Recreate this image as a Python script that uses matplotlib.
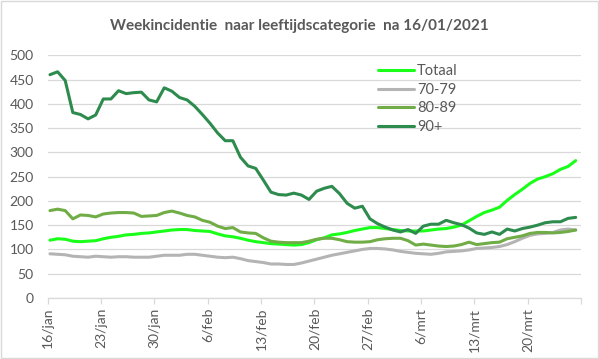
import matplotlib.pyplot as plt
import numpy as np
from matplotlib.patches import Rectangle

# daily values, 16/jan .. 26/mrt
totaal = [119, 122, 121, 117, 116, 117, 118, 122, 125, 127,
          130, 131, 133, 134, 136, 138, 140, 141, 141, 139,
          138, 137, 132, 128, 126, 123, 119, 116, 114, 112,
          111, 110, 109, 110, 114, 120, 124, 130, 132, 135,
          139, 142, 145, 145, 143, 141, 139, 138, 138, 138,
          140, 142, 143, 146, 150, 159, 168, 176, 181, 187,
          201, 213, 224, 236, 245, 250, 256, 265, 271, 283]
leeftijd_70_79 = [91, 90, 89, 86, 85, 84, 86, 85, 84, 85,
                  85, 84, 84, 84, 86, 88, 88, 88, 90, 90,
                  88, 86, 84, 83, 84, 81, 77, 75, 73, 70,
                  70, 69, 69, 72, 76, 80, 84, 88, 91, 94,
                  97, 100, 102, 102, 101, 99, 96, 94, 92, 91,
                  90, 92, 95, 96, 97, 99, 102, 103, 104, 106,
                  110, 116, 123, 129, 132, 133, 135, 140, 142, 140]
leeftijd_80_89 = [180, 183, 180, 163, 171, 170, 167, 173, 175, 176,
                  176, 175, 168, 169, 170, 176, 179, 175, 170, 167,
                  160, 156, 148, 143, 145, 136, 134, 133, 124, 117,
                  115, 114, 114, 114, 117, 121, 123, 123, 120, 116,
                  115, 115, 116, 120, 122, 123, 123, 118, 109, 111,
                  109, 107, 106, 107, 110, 115, 110, 112, 114, 115,
                  122, 125, 128, 133, 135, 135, 134, 135, 137, 140]
leeftijd_90 = [460, 466, 448, 382, 378, 369, 377, 410, 410, 427,
               421, 423, 424, 408, 404, 433, 426, 413, 408, 395,
               378, 360, 340, 324, 324, 290, 272, 267, 243, 218,
               213, 212, 216, 212, 203, 220, 226, 230, 215, 195,
               185, 189, 163, 153, 146, 140, 136, 141, 133, 148,
               152, 152, 160, 155, 151, 144, 134, 131, 136, 131,
               142, 138, 143, 146, 150, 155, 157, 157, 164, 166]

series_names = ['Totaal', '70-79', '80-89', '90+']
series_colors = ['#1aff1a', '#b4b4b4', '#70ad47', '#2e8b4e']
tick_labels = ['16/jan', '23/jan', '30/jan', '6/feb', '13/feb', '20/feb',
               '27/feb', '6/mrt', '13/mrt', '20/mrt', '']

plt.rcParams['font.family'] = ['Lato', 'DejaVu Sans']
grey_txt = '#595959'
grid_col = '#d9d9d9'

fig = plt.figure(figsize=(5.99, 3.59), dpi=100)
ax = fig.add_axes([0.0796, 0.170, 0.8904, 0.676])

x = np.arange(len(totaal))
for vals, name, col in zip([totaal, leeftijd_70_79, leeftijd_80_89, leeftijd_90],
                           series_names, series_colors):
    ax.plot(x, vals, color=col, lw=2.2, label=name, solid_capstyle='round')

ax.set_ylim(0, 500)
ax.set_yticks(np.arange(0, 501, 50))
ax.set_xlim(-0.3, 69.7)
ax.set_xticks(np.arange(0, 71, 7) - 0.3)
ax.set_xticklabels(tick_labels, rotation=90)

ax.grid(axis='y', color=grid_col, lw=0.9)
ax.set_axisbelow(True)
for s in ['top', 'right', 'left']:
    ax.spines[s].set_visible(False)
ax.spines['bottom'].set_color(grid_col)
ax.spines['bottom'].set_linewidth(0.9)
ax.tick_params(axis='y', length=0, pad=10, labelsize=10, labelcolor=grey_txt)
ax.tick_params(axis='x', length=4, color=grid_col, width=0.9, pad=3,
               labelsize=10, labelcolor=grey_txt)

leg = ax.legend(loc='upper left', bbox_to_anchor=(0.602, 1.0), frameon=False,
                handlelength=2.5, handletextpad=0.2, labelspacing=0.32,
                fontsize=10.5, borderaxespad=0.2)
for t in leg.get_texts():
    t.set_color(grey_txt)

fig.text(0.5, 0.928, 'Weekincidentie  naar leeftijdscategorie  na 16/01/2021',
         ha='center', va='center', fontsize=11, fontweight='bold', color=grey_txt)

fig.patches.append(Rectangle((0.001, 0.002), 0.997, 0.995, transform=fig.transFigure,
                             fill=False, edgecolor=grid_col, lw=1))

fig.savefig('out.png', dpi=100)
